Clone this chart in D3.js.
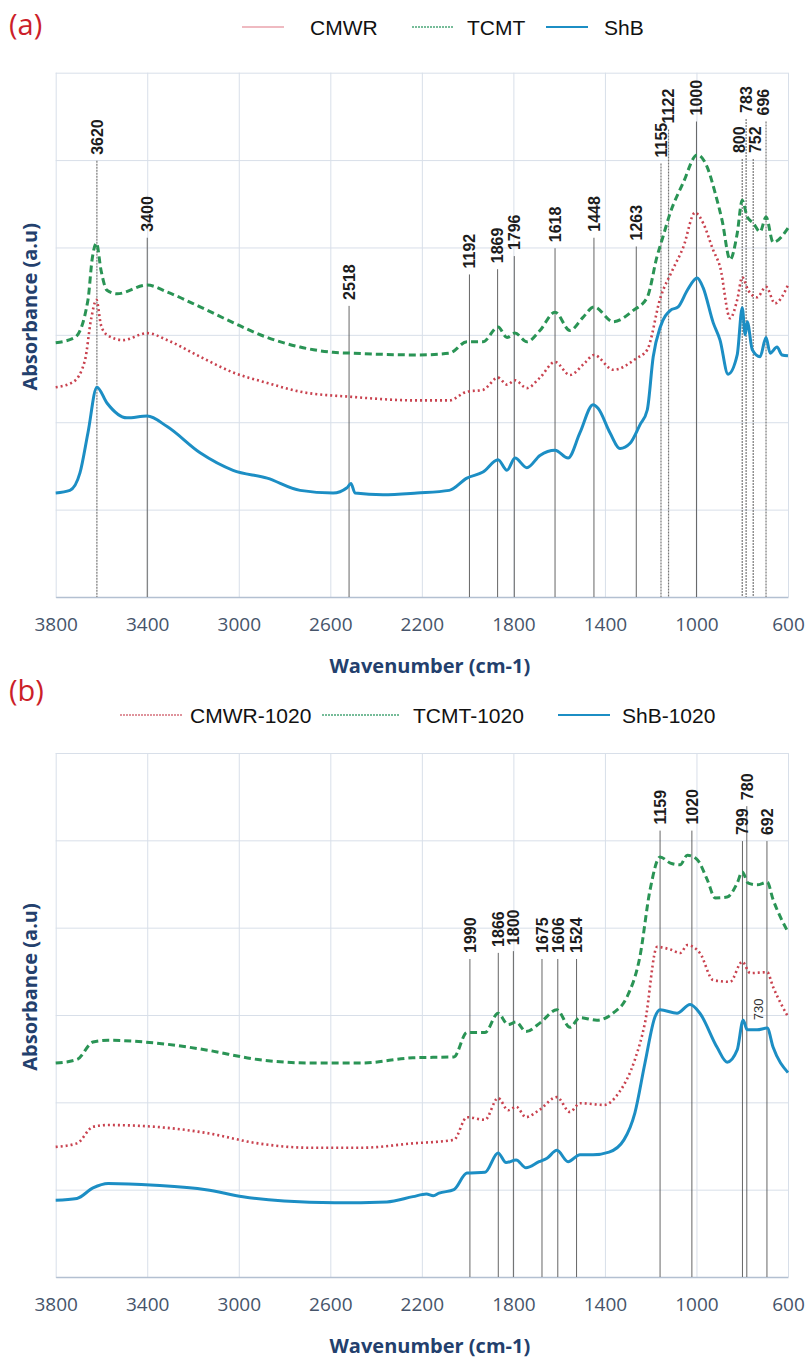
<!DOCTYPE html>
<html>
<head>
<meta charset="utf-8">
<script src="https://cdn.jsdelivr.net/npm/d3@7"></script>
<style>
  body { margin: 0; background: #fff; }
  svg { display: block; }
</style>
</head>
<body>
<svg id="chart" width="809" height="1362"></svg>
<script>
'use strict'

// wavenumber ticks (cm-1), same for both panels
const ticks = [3800, 3400, 3000, 2600, 2200, 1800, 1400, 1000, 600]

// panel (a) spectra: [wavenumber, absorbance (a.u)]
const cmwrA = [[3800,2.40],[3724,2.46],[3672,2.71],[3646,3.17],[3622,3.40],[3602,3.11],[3576,3.00],[3506,2.94],[3400,3.02],[3313,2.94],[3169,2.75],[3025,2.57],[2876,2.45],[2732,2.35],[2505,2.29],[2221,2.25],[2080,2.25],[2003,2.35],[1933,2.37],[1867,2.51],[1828,2.43],[1793,2.48],[1741,2.39],[1684,2.51],[1618,2.69],[1553,2.54],[1488,2.68],[1448,2.77],[1363,2.60],[1263,2.73],[1215,2.83],[1157,3.43],[1105,3.74],[1058,4.00],[1006,4.40],[971,4.28],[927,3.97],[897,3.78],[853,3.19],[822,3.40],[800,3.66],[774,3.51],[735,3.43],[696,3.55],[657,3.36],[600,3.57]]
const tcmtA = [[3800,2.91],[3716,2.97],[3659,3.40],[3641,3.86],[3622,4.05],[3602,3.74],[3576,3.51],[3532,3.47],[3400,3.57],[3313,3.49],[3169,3.32],[3025,3.14],[2876,2.97],[2732,2.86],[2588,2.80],[2505,2.79],[2221,2.77],[2080,2.79],[2003,2.92],[1933,2.92],[1867,3.09],[1828,2.97],[1793,3.02],[1741,2.92],[1684,3.05],[1618,3.26],[1553,3.05],[1496,3.20],[1448,3.32],[1363,3.15],[1276,3.28],[1215,3.43],[1172,3.90],[1149,4.10],[1114,4.40],[1058,4.74],[997,5.06],[953,4.92],[918,4.62],[888,4.31],[853,3.86],[822,4.16],[800,4.54],[778,4.35],[752,4.28],[722,4.18],[696,4.35],[665,4.06],[600,4.22]]
const shbA = [[3800,1.19],[3738,1.22],[3694,1.42],[3659,1.88],[3620,2.40],[3576,2.22],[3489,2.05],[3400,2.07],[3313,1.95],[3169,1.65],[3025,1.45],[2876,1.36],[2732,1.22],[2588,1.19],[2527,1.25],[2510,1.30],[2492,1.19],[2370,1.17],[2221,1.19],[2080,1.22],[2003,1.36],[1933,1.43],[1867,1.57],[1828,1.45],[1793,1.59],[1741,1.48],[1684,1.62],[1618,1.68],[1561,1.59],[1509,1.88],[1452,2.20],[1430,2.16],[1378,1.88],[1334,1.70],[1290,1.76],[1247,1.97],[1215,2.14],[1189,2.75],[1158,3.09],[1114,3.28],[1080,3.32],[1040,3.51],[997,3.65],[971,3.54],[927,3.14],[897,2.94],[862,2.55],[822,2.77],[800,3.31],[787,3.00],[778,3.15],[756,2.83],[722,2.75],[696,2.97],[678,2.79],[648,2.86],[626,2.77],[600,2.76]]

// panel (b) spectra (1020 samples)
const cmwrB = [[3800,1.49],[3707,1.53],[3637,1.72],[3571,1.74],[3366,1.72],[3143,1.65],[2916,1.53],[2689,1.48],[2466,1.48],[2239,1.53],[2060,1.57],[2003,1.83],[1924,1.80],[1867,2.05],[1823,1.91],[1788,1.95],[1745,1.83],[1688,1.91],[1610,2.06],[1553,1.89],[1509,1.99],[1404,1.97],[1339,2.11],[1269,2.49],[1225,2.91],[1172,3.78],[1114,3.75],[1071,3.71],[1040,3.80],[985,3.71],[927,3.40],[853,3.38],[800,3.61],[765,3.48],[691,3.49],[665,3.32],[600,2.98]]
const tcmtB = [[3800,2.45],[3707,2.49],[3637,2.69],[3571,2.71],[3366,2.68],[3143,2.60],[2916,2.49],[2689,2.45],[2466,2.45],[2239,2.51],[2060,2.52],[2003,2.80],[1924,2.80],[1867,3.02],[1823,2.89],[1788,2.92],[1745,2.81],[1683,2.91],[1610,3.06],[1553,2.86],[1509,2.97],[1435,2.94],[1365,3.02],[1303,3.21],[1247,3.67],[1203,4.43],[1159,4.81],[1114,4.74],[1071,4.72],[1040,4.83],[997,4.78],[953,4.55],[918,4.34],[866,4.35],[822,4.51],[800,4.64],[774,4.51],[735,4.49],[691,4.52],[665,4.32],[600,3.95]]
const shbB = [[3800,0.88],[3707,0.90],[3637,1.02],[3571,1.07],[3366,1.05],[3143,1.00],[2982,0.92],[2802,0.87],[2580,0.85],[2353,0.86],[2239,0.92],[2180,0.95],[2150,0.93],[2125,0.96],[2060,1.00],[2003,1.19],[1924,1.20],[1867,1.42],[1832,1.31],[1788,1.34],[1745,1.25],[1688,1.32],[1653,1.36],[1610,1.45],[1561,1.32],[1509,1.40],[1452,1.40],[1382,1.43],[1317,1.57],[1269,1.88],[1225,2.45],[1181,2.98],[1159,3.06],[1085,3.02],[1028,3.12],[985,3.02],[910,2.63],[866,2.46],[822,2.60],[796,2.94],[778,2.83],[735,2.83],[691,2.85],[665,2.63],[600,2.34]]

// marked peaks: where the line is drawn, and the text printed on it
const peaksA = [3620, 3400, 2518, 1992, 1869, 1796, 1618, 1448, 1263, 1155, 1122, 1000, 800, 783, 752, 696]
const peakTextA = ['3620', '3400', '2518', '1192', '1869', '1796', '1618', '1448', '1263', '1155', '1122', '1000', '800', '783', '752', '696']
const peaksB = [1990, 1866, 1800, 1675, 1606, 1524, 1159, 1020, 799, 780, 692]
const peakTextB = ['1990', '1866', '1800', '1675', '1606', '1524', '1159', '1020', '799', '780', '692']

const seriesA = ['CMWR', 'TCMT', 'ShB']
const seriesB = ['CMWR-1020', 'TCMT-1020', 'ShB-1020']

// ---- layout (not data) ----
// height (a.u) where each peak label starts
const labelLevelA = [5.06, 4.18, 3.40, 3.76, 3.82, 3.97, 4.06, 4.18, 4.08, 5.03, 5.42, 5.51, 5.08, 5.54, 5.08, 5.51]
const labelLevelB = [3.71, 3.78, 3.80, 3.71, 3.71, 3.71, 5.18, 5.18, 5.06, 5.46, 5.06]
const labelShiftA = [0, 0, 0, 0, 0, 0, 0, 0, 0, 0, 0, 0, -3, 0, 2, -3]
const dottedA = [3620, 1155, 1122, 800, 783, 752, 696]

const colors = ['#c9424f', '#2a9455', '#1c8ec4']
const dashes = ['2,3', '7,4', null]
const widths = [2.6, 3, 3]

const plotLeft = 55.7, plotRight = 788
const width = plotRight - plotLeft

const svg = d3.select('#chart')

function drawPanel(opts) {
	const h = opts.bottom - opts.top
	const g = svg.append('g').attr('transform', 'translate(' + plotLeft + ',' + opts.top + ')')

	const x = d3.scaleLinear().domain([3800, 600]).range([0, width])
	const y = d3.scaleLinear().domain([0, 6]).range([h, 0])

	// grid
	const gx = g.append('g').call(d3.axisBottom(x).tickValues(ticks).tickSize(h).tickFormat(''))
	const gy = g.append('g').call(d3.axisLeft(y).ticks(6).tickSize(-width).tickFormat(''))
	gx.select('.domain').remove()
	gy.select('.domain').remove()
	g.selectAll('.tick line').attr('stroke', '#d8dfe9').attr('stroke-width', 1)

	// bottom axis + tick labels
	const ax = g.append('g')
		.attr('transform', 'translate(0,' + h + ')')
		.call(d3.axisBottom(x).tickValues(ticks).tickSize(0).tickPadding(21).tickFormat(d3.format('d')))
	ax.select('.domain').attr('stroke', '#b3c0d1').attr('stroke-width', 1.5)
	ax.selectAll('text')
		.attr('fill', '#46546a')
		.style('font-family', '"Open Sans", sans-serif')
		.style('font-size', '19px')

	// peak marker lines
	opts.peaks.forEach((p, i) => {
		const dotted = opts.dotted && opts.dotted.includes(p)
		g.append('line')
			.attr('x1', x(p)).attr('x2', x(p))
			.attr('y1', y(opts.levels[i]) + 6).attr('y2', h)
			.attr('stroke', dotted ? '#777' : '#555')
			.attr('stroke-width', dotted ? 1.2 : 0.9)
			.attr('stroke-dasharray', dotted ? '2,1' : null)
	})

	// spectra
	const line = d3.line().x(d => x(d[0])).y(d => y(d[1])).curve(d3.curveMonotoneX)
	opts.data.forEach((s, i) => {
		g.append('path')
			.datum(s)
			.attr('d', line)
			.attr('fill', 'none')
			.attr('stroke', colors[i])
			.attr('stroke-width', widths[i])
			.attr('stroke-dasharray', dashes[i])
			.attr('stroke-linejoin', 'round')
	})

	// peak labels (rotated)
	opts.peaks.forEach((p, i) => {
		const sx = x(p) + (opts.shift ? opts.shift[i] : 0)
		g.append('text')
			.attr('transform', 'translate(' + sx + ',' + y(opts.levels[i]) + ') rotate(-90)')
			.attr('dy', '0.36em')
			.style('font-family', '"Liberation Sans", Arial, sans-serif')
			.style('font-weight', 'bold')
			.style('font-size', '16px')
			.attr('fill', '#1c1c1c')
			.text(opts.texts[i])
	})
	if (opts.extra) {
		g.append('text')
			.attr('transform', 'translate(' + x(opts.extra.at) + ',' + y(opts.extra.level) + ') rotate(-90)')
			.attr('dy', '0.36em')
			.style('font-family', '"Liberation Sans", Arial, sans-serif')
			.style('font-size', '13px')
			.attr('fill', '#333')
			.text(opts.extra.text)
	}

	// axis titles
	g.append('text')
		.attr('x', width / 2 + 8).attr('y', h + 76)
		.attr('text-anchor', 'middle')
		.style('font-family', '"Open Sans", sans-serif')
		.style('font-weight', 'bold')
		.style('font-size', '20px')
		.attr('fill', '#23406d')
		.text('Wavenumber (cm-1)')
	g.append('text')
		.attr('transform', 'translate(' + (37 - plotLeft) + ',' + (h / 2 - 28) + ') rotate(-90)')
		.attr('text-anchor', 'middle')
		.style('font-family', '"Open Sans", sans-serif')
		.style('font-weight', 'bold')
		.style('font-size', '20px')
		.attr('fill', '#23406d')
		.text('Absorbance (a.u)')

	// panel letter
	svg.append('text')
		.attr('x', 9).attr('y', opts.letterY)
		.style('font-family', '"Open Sans", sans-serif')
		.style('font-size', '29px')
		.attr('fill', '#cc1f2a')
		.text(opts.letter)

	// legend
	opts.legend.forEach((L, i) => {
		svg.append('line')
			.attr('x1', L[0]).attr('x2', L[1])
			.attr('y1', opts.legendY).attr('y2', opts.legendY)
			.attr('stroke', opts.legendColors[i])
			.attr('stroke-width', opts.legendWidths[i])
			.attr('stroke-dasharray', opts.legendDash[i])
		svg.append('text')
			.attr('x', L[2]).attr('y', opts.legendY + 7.5)
			.style('font-family', '"Liberation Sans", Arial, sans-serif')
			.style('font-size', '21px')
			.attr('fill', '#111')
			.text(opts.names[i])
	})
}

drawPanel({
	top: 72.7, bottom: 597,
	data: [cmwrA, tcmtA, shbA],
	peaks: peaksA, texts: peakTextA, levels: labelLevelA, shift: labelShiftA, dotted: dottedA,
	letter: '(a)', letterY: 35,
	names: seriesA, legendY: 27,
	legend: [[242, 284, 310], [412, 454, 467], [546, 588, 604]],
	legendColors: ['#eaa3ad', '#4aa678', '#1c8ec4'],
	legendWidths: [1.5, 1.5, 2],
	legendDash: [null, '2,1', null]
})

drawPanel({
	top: 753, bottom: 1277,
	data: [cmwrB, tcmtB, shbB],
	peaks: peaksB, texts: peakTextB, levels: labelLevelB,
	extra: {at: 730, level: 2.94, text: '730'},
	letter: '(b)', letterY: 701,
	names: seriesB, legendY: 715,
	legend: [[120, 183, 190], [322, 400, 413], [558, 610, 622]],
	legendColors: ['#d5707c', '#4aa678', '#1c8ec4'],
	legendWidths: [1.5, 1.5, 2],
	legendDash: ['2,1', '2,1', null]
})
</script>
</body>
</html>
